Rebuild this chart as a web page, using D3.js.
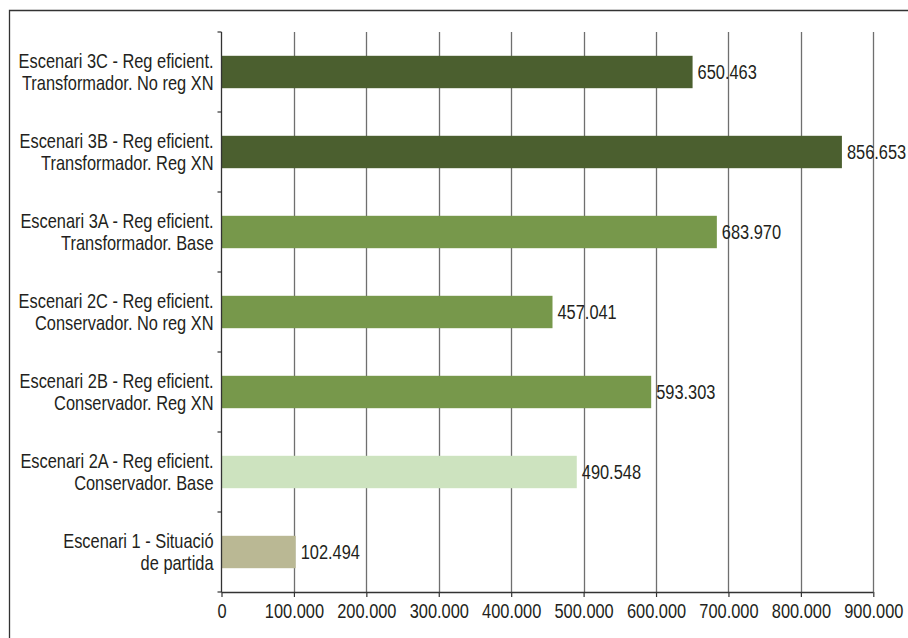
<!DOCTYPE html>
<html><head><meta charset="utf-8">
<script src="https://cdn.jsdelivr.net/npm/d3@7"></script>
<style>
html,body{margin:0;padding:0;background:#fff;}
svg text{font-family:"Liberation Sans","Arial",sans-serif;fill:#231f20;}
</style></head>
<body>
<svg id="chart" width="908" height="638"></svg>
<script>
const categories = [
  ["Escenari 3C - Reg eficient.", "Transformador. No reg XN"],
  ["Escenari 3B - Reg eficient.", "Transformador. Reg XN"],
  ["Escenari 3A - Reg eficient.", "Transformador. Base"],
  ["Escenari 2C - Reg eficient.", "Conservador. No reg XN"],
  ["Escenari 2B - Reg eficient.", "Conservador. Reg XN"],
  ["Escenari 2A - Reg eficient.", "Conservador. Base"],
  ["Escenari 1 - Situació", "de partida"]
];
const values = [650463, 856653, 683970, 457041, 593303, 490548, 102494];
const barColors = ["#4b5f2f", "#4b5f2f", "#77984b", "#77984b", "#77984b", "#cde3bf", "#bab894"];
const xTicks = [0, 100000, 200000, 300000, 400000, 500000, 600000, 700000, 800000, 900000];

const svg = d3.select("#chart");
const M = {left: 221.5, right: 873.3, top: 32, bottom: 592};
const FS = 20.5;
const SX = 0.8; // horizontal condensing to mimic a narrow typeface

// outer frame
svg.append("path").attr("d", `M9.5,638 V10.5 H908`).attr("fill","none").attr("stroke","#333").attr("stroke-width",1.3);

const x = d3.scaleLinear().domain([0, 900000]).range([M.left, M.right]);
const idx = categories.map((d,i)=>i);
const y = d3.scaleBand().domain(idx).range([M.top, M.bottom]).paddingInner(0.595).paddingOuter(0.2975);

const fmt = d3.formatLocale({decimal: ",", thousands: ".", grouping: [3], currency: ["","€"]}).format(",d");

// gridlines
svg.append("g").selectAll("line").data(xTicks.filter(d=>d>0)).join("line")
  .attr("x1", d=>Math.round(x(d))+0.5).attr("x2", d=>Math.round(x(d))+0.5)
  .attr("y1", M.top).attr("y2", M.bottom)
  .attr("stroke", "#6f6f6f").attr("stroke-width", 1.3);

// bars
svg.append("g").selectAll("rect").data(values).join("rect")
  .attr("x", x(0)).attr("y", (d,i)=>y(i))
  .attr("width", d=>x(d)-x(0)).attr("height", y.bandwidth())
  .attr("fill", (d,i)=>barColors[i]);

// value labels
svg.append("g").selectAll("text").data(values).join("text")
  .attr("transform", (d,i)=>`translate(${x(d)+5},${y(i)+y.bandwidth()/2}) scale(${SX},1)`)
  .attr("dy", "0.35em").attr("font-size", FS)
  .text(d=>fmt(d));

// x axis
const xAxis = d3.axisBottom(x).tickValues(xTicks).tickSize(5).tickPadding(6).tickFormat(d=>fmt(d));
const gx = svg.append("g").attr("transform", `translate(0,${M.bottom})`).call(xAxis);
gx.select(".domain").attr("stroke","#333").attr("stroke-width",1.3).attr("d", `M${M.left},0.5H${M.right}`);
gx.selectAll(".tick line").attr("stroke","#333").attr("stroke-width",1.2);
gx.selectAll(".tick text").attr("font-size", FS).attr("font-family", null).attr("fill","#231f20")
  .attr("transform", `scale(${SX},1)`);

// y axis with boundary ticks
const yAxisG = svg.append("g");
yAxisG.append("line").attr("x1", M.left).attr("x2", M.left).attr("y1", M.top).attr("y2", M.bottom)
  .attr("stroke","#333").attr("stroke-width",1.3);
const bounds = idx.map(i=>y(i) - y.step()*y.paddingInner()/2).concat([M.bottom]);
yAxisG.selectAll("line.tk").data(bounds).join("line").attr("class","tk")
  .attr("x1", M.left-4).attr("x2", M.left).attr("y1", d=>d).attr("y2", d=>d)
  .attr("stroke","#333").attr("stroke-width",1.2);

// category labels
const lab = svg.append("g").selectAll("text").data(categories).join("text")
  .attr("transform", (d,i)=>`translate(${M.left-8},${y(i)+y.bandwidth()/2}) scale(${SX},1)`)
  .attr("text-anchor","end").attr("font-size", FS);
lab.selectAll("tspan").data(d=>d).join("tspan")
  .attr("x", 0).attr("dy", (d,j)=> j===0 ? "-0.18em" : "1.07em")
  .text(d=>d);
</script>
</body></html>
